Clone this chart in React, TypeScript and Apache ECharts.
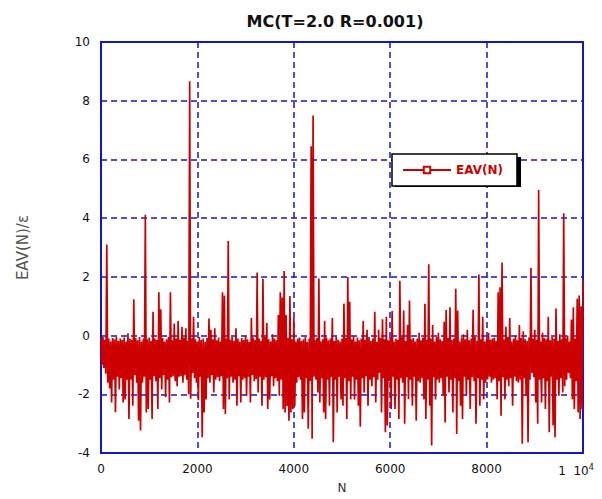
import React, { useEffect, useRef } from 'react';
import * as echarts from 'echarts';

// Sampling step along N (data read every 20 steps; upper and lower envelopes alternate)
const STEP = 20;

// Values read at N = 0, 40, 80, ... (upper excursions of the trace)
const upperValues = [
  -0.1, -0.05, -0.15, 3.1, -0.1, -0.2, -0.08, -0.12, -0.05, -0.18,
  -0.1, -0.15, -0.06, -0.2, 0.08, -0.1, -0.14, 1.24, -0.08, -0.16,
  -0.05, -0.2, -0.1, 4.12, -0.12, -0.06, -0.18, 0.81, -0.1, -0.15,
  1.48, 0.9, -0.08, -0.2, -0.12, -0.05, 1.48, -0.16, 0.41, -0.1,
  0.5, -0.14, 0.3, -0.06, 0.25, -0.18, 8.66, -0.1, 0.64, -0.12,
  -0.2, -0.05, -0.15, -0.1, -0.22, -0.08, 0.58, 0.2, -0.12, 0.25,
  -0.16, -0.06, -0.2, 1.48, 1.37, -0.1, 3.22, -0.14, -0.05, -0.18,
  0.25, -0.1, -0.2, -0.08, -0.15, 0.0, -0.12, -0.22, 0.6, -0.06,
  -0.15, 2.15, -0.1, -0.18, 1.94, -0.05, 0.43, -0.12, -0.2, 0.05,
  -0.1, -0.16, 0.7, 1.48, 1.3, 2.2, 0.7, -0.08, 1.35, -0.12,
  0.6, -0.2, -0.1, -0.06, -0.18, -0.12, -0.05, -0.22, -0.1, 6.45,
  7.5, -0.15, -0.08, 1.95, -0.2, -0.12, 0.5, -0.06, -0.16, -0.1,
  0.6, -0.18, -0.05, -0.14, -0.2, -0.1, 1.09, -0.08, 2.0, 1.15,
  -0.12, 0.0, -0.2, -0.06, -0.16, -0.1, 0.5, -0.14, 0.2, -0.05,
  -0.18, -0.1, 0.81, -0.22, 0.2, -0.08, 0.56, -0.12, 0.64, -0.16,
  -0.06, 0.84, -0.2, -0.1, -0.14, 1.87, -0.05, 0.86, -0.18, 0.36,
  1.2, -0.12, -0.08, -0.2, -0.1, 0.1, -0.16, -0.06, 1.09, -0.14,
  2.43, -0.1, 0.36, -0.2, -0.05, 0.1, -0.12, -0.18, 0.47, 0.87,
  -0.08, 0.97, -0.15, -0.1, 1.6, 0.86, -0.2, -0.06, 0.05, -0.12,
  0.2, -0.16, -0.1, 0.88, -0.05, -0.18, 2.08, -0.12, 0.64, -0.2,
  -0.08, 0.1, -0.14, -0.1, -0.06, -0.18, 1.48, 1.65, 2.49, -0.12,
  0.3, -0.05, 0.6, -0.2, -0.1, 0.0, -0.16, 0.36, -0.08, 0.15,
  -0.12, -0.18, -0.06, 2.3, -0.1, 0.2, -0.14, 4.96, -0.2, 0.1,
  -0.08, -0.12, 0.64, -0.16, -0.05, -0.1, 0.92, -0.18, 0.05, -0.12,
  4.17, -0.06, 0.0, -0.2, 0.55, 0.97, -0.1, 1.26, 1.37, 1.0,
  1.9,
];

// Values read at N = 20, 60, 100, ... (lower excursions of the trace)
const lowerValues = [
  -1.0, -1.1, -1.3, -1.6, -1.8, -2.28, -1.5, -2.61, -1.4, -1.83,
  -1.45, -2.28, -2.17, -1.5, -2.84, -1.49, -2.39, -1.35, -1.6, -2.9,
  -3.23, -1.6, -1.4, -2.62, -2.5, -1.5, -2.84, -1.38, -1.55, -2.5,
  -1.45, -1.83, -1.35, -2.1, -1.5, -2.28, -1.42, -1.38, -1.55, -1.72,
  -1.4, -1.38, -1.6, -1.35, -1.5, -2.0, -2.15, -1.27, -1.45, -1.6,
  -2.2, -1.4, -3.46, -2.62, -2.17, -1.45, -1.6, -1.35, -1.94, -1.5,
  -1.42, -1.55, -1.38, -2.5, -2.67, -1.45, -2.17, -1.4, -1.6, -1.5,
  -2.39, -1.38, -2.28, -1.5, -1.45, -2.05, -1.4, -2.28, -1.35, -1.55,
  -1.48, -1.94, -1.4, -2.39, -1.5, -1.42, -2.5, -2.17, -1.38, -1.72,
  -1.45, -1.55, -2.05, -1.5, -2.5, -2.62, -2.4, -2.9, -2.62, -2.5,
  -2.4, -1.6, -1.42, -1.5, -2.84, -2.62, -1.45, -3.17, -1.55, -3.51,
  -1.4, -1.5, -1.94, -2.28, -1.45, -2.62, -2.84, -1.5, -2.39, -1.42,
  -3.63, -1.5, -2.62, -1.4, -2.17, -2.39, -1.45, -2.84, -1.55, -2.17,
  -1.4, -2.17, -1.5, -2.39, -3.1, -1.45, -1.94, -1.38, -2.39, -1.5,
  -1.72, -1.42, -2.28, -1.5, -1.27, -2.62, -1.45, -3.29, -3.06, -1.55,
  -2.5, -1.4, -2.5, -1.5, -2.84, -1.45, -1.6, -3.0, -1.42, -2.17,
  -1.5, -2.39, -1.4, -2.9, -1.55, -1.6, -1.45, -2.17, -2.84, -1.5,
  -2.39, -3.74, -1.42, -2.17, -1.5, -1.6, -1.45, -2.05, -2.96, -1.4,
  -1.94, -1.5, -2.62, -1.45, -3.35, -1.55, -2.39, -2.84, -1.4, -2.05,
  -1.5, -2.5, -1.42, -1.55, -3.0, -1.45, -2.39, -1.5, -2.17, -1.6,
  -1.49, -1.4, -1.6, -1.5, -1.45, -2.17, -1.55, -2.73, -1.42, -2.17,
  -1.5, -1.72, -1.45, -2.39, -1.4, -1.55, -1.6, -1.5, -3.68, -1.45,
  -2.05, -3.63, -1.5, -1.27, -1.42, -2.28, -3.0, -1.5, -2.28, -1.45,
  -2.5, -1.55, -3.29, -1.4, -3.06, -3.46, -1.5, -2.05, -1.45, -1.94,
  -1.72, -1.5, -1.27, -1.45, -2.17, -2.5, -1.55, -2.62, -2.84, -2.5,
];

const xMin = 0;
const xMax = 10000;
const xInterval = 2000;
const yMin = -4;
const yMax = 10;
const yInterval = 2;

const SERIES_NAME = 'EAV(N)';
const TITLE = 'MC(T=2.0 R=0.001)';
const X_NAME = 'N';
const Y_NAME = 'EAV(N)/ε';

const RED = '#cc0000';
const BLUE = '#1414cc';

function buildPoints(): [number, number][] {
  const pts: [number, number][] = [];
  for (let k = 0; k < upperValues.length; k++) {
    pts.push([2 * STEP * k, upperValues[k]]);
    if (k < lowerValues.length) pts.push([2 * STEP * k + STEP, lowerValues[k]]);
  }
  return pts;
}

export default function App() {
  const ref = useRef<HTMLDivElement>(null);

  useEffect(() => {
    if (!ref.current) return;
    const chart = echarts.init(ref.current, undefined, { renderer: 'svg' });
    const labelFont = 'DejaVu Sans';
    chart.setOption({
      animation: false,
      backgroundColor: '#ffffff',
      title: {
        text: TITLE,
        left: 330,
        top: 8,
        textAlign: 'center',
        textStyle: { fontFamily: labelFont, fontSize: 16, fontWeight: 'bold', color: '#111' },
      },
      legend: {
        left: 392,
        top: 154,
        data: [SERIES_NAME],
        itemWidth: 48,
        itemHeight: 8,
        itemGap: 0,
        padding: [10, 14, 10, 10],
        borderColor: '#000',
        borderWidth: 1.5,
        backgroundColor: '#fff',
        textStyle: { color: RED, fontWeight: 'bold', fontSize: 12, fontFamily: labelFont },
        z: 6,
      },
      graphic: [
        {
          type: 'rect',
          left: 395,
          top: 157,
          shape: { width: 126, height: 30 },
          style: { fill: '#000' },
          z: 5,
        },
      ],
      grid: {
        left: 101,
        right: 19,
        top: 42,
        bottom: 41,
        show: true,
        borderColor: BLUE,
        borderWidth: 2,
        backgroundColor: 'transparent',
      },
      xAxis: {
        type: 'value',
        min: xMin,
        max: xMax,
        interval: xInterval,
        axisLine: { show: false },
        axisTick: { show: false },
        splitLine: { show: true, lineStyle: { color: BLUE, type: [6, 4], width: 1.5 } },
        axisLabel: {
          margin: 10,
          fontSize: 12,
          fontFamily: labelFont,
          color: '#111',
          formatter: (v: number) => (v === xMax ? '{a|1  10}{s|4}' : String(v)),
          rich: {
            a: { fontSize: 12, fontFamily: labelFont, color: '#111' },
            s: { fontSize: 8, fontFamily: labelFont, color: '#111', verticalAlign: 'top', padding: [0, 14, 8, 0] },
          },
        },
        name: X_NAME,
        nameLocation: 'middle',
        nameGap: 27,
        nameTextStyle: { fontFamily: labelFont, fontSize: 12, color: '#333' },
      },
      yAxis: {
        type: 'value',
        min: yMin,
        max: yMax,
        interval: yInterval,
        axisLine: { show: false },
        axisTick: { show: false },
        splitLine: { show: true, lineStyle: { color: BLUE, type: [6, 4], width: 1.5 } },
        axisLabel: { margin: 11, fontSize: 12, fontFamily: labelFont, color: '#111' },
        name: Y_NAME,
        nameLocation: 'middle',
        nameGap: 71,
        nameRotate: 90,
        nameTextStyle: { fontFamily: labelFont, fontSize: 15, color: '#555' },
      },
      series: [
        {
          name: SERIES_NAME,
          type: 'line',
          data: buildPoints(),
          showSymbol: false,
          symbol: 'emptyRect',
          symbolSize: 6,
          lineStyle: { color: RED, width: 1.7 },
          itemStyle: { color: RED },
          silent: true,
          clip: true,
        },
      ],
    });
    return () => chart.dispose();
  }, []);

  return <div ref={ref} style={{ position: 'fixed', left: 0, top: 0, width: 602, height: 499 }} />;
}
